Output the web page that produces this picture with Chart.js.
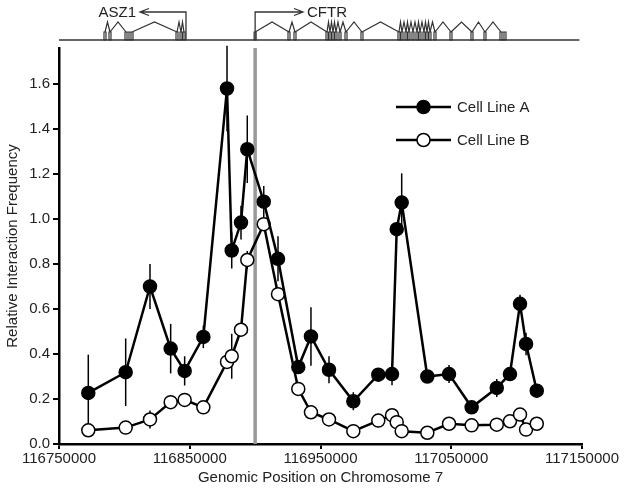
<!DOCTYPE html>
<html>
<head>
    <title>Relative Interaction Frequency</title>
    <script src="https://cdn.jsdelivr.net/npm/chart.js"></script>
    <style>
        body { margin: 0; background: #fff; }
    </style>
</head>
<body>
    <canvas id="chart" width="624" height="491"></canvas>
    <script>
    // fragment positions on chr7 and interaction frequencies
    const positions = [116772400, 116801000, 116819600, 116835400, 116846100, 116860400, 116878500,
        116882100, 116889200, 116894000, 116906600, 116917500, 116933000, 116942700, 116956500,
        116975100, 116994200, 117004700, 117008300, 117012100, 117031700, 117048300, 117065600,
        117084800, 117094900, 117102600, 117107200, 117115400];
    const cellLineA = [0.227, 0.319, 0.70, 0.424, 0.325, 0.476, 1.58, 0.86, 0.984, 1.31, 1.077, 0.823,
        0.342, 0.478, 0.33, 0.19, 0.308, 0.311, 0.955, 1.073, 0.30, 0.311, 0.163, 0.249, 0.311, 0.623,
        0.445, 0.237];
    const cellLineAErr = [0.17, 0.15, 0.10, 0.11, 0.065, 0.05, 0.19, 0.08, 0.075, 0.15, 0.07, 0.10,
        0.03, 0.13, 0.06, 0.04, 0.02, 0.05, 0.03, 0.13, 0.02, 0.04, 0.02, 0.04, 0.02, 0.04, 0.05, 0.03];
    const cellLineB = [0.061, 0.073, 0.109, 0.186, 0.196, 0.163, 0.365, 0.39, 0.508, 0.818, 0.977, 0.666,
        0.245, 0.141, 0.109, 0.057, 0.104, 0.128, 0.097, 0.057, 0.05, 0.09, 0.083, 0.086, 0.101, 0.131,
        0.064, 0.09];
    const cellLineBErr = [0.01, 0.02, 0.04, 0.01, 0.01, 0.03, 0.02, 0.10, 0.02, 0.04, 0.02, 0.03, 0.03,
        0.01, 0.01, 0.01, 0.03, 0.01, 0.01, 0.01, 0.01, 0.01, 0.01, 0.02, 0.01, 0.02, 0.02, 0.01];

    const xTicks = [116750000, 116850000, 116950000, 117050000, 117150000];
    const yTicks = [0, 0.2, 0.4, 0.6, 0.8, 1.0, 1.2, 1.4, 1.6];
    const viewpoint = 116900000;

    // gene annotation above the plot
    const asz1Exons = [116785180, 116789000, 116801240, 116802770, 116804300, 116805830, 116840250,
        116843310, 116845600];
    const asz1Tss = 116847130, asz1ArrowTip = 116811950;
    const cftrExons = [116900000, 116925900, 116930490, 116954970, 116957260, 116959560, 116961850,
        116964910, 116969500, 116981730, 117010030, 117012330, 117015390, 117017680, 117020740,
        117023800, 117026090, 117029150, 117031450, 117033740, 117037560, 117049800, 117065860,
        117075800, 117088040, 117089570, 117091100];
    const cftrTss = 116900000, cftrArrowTip = 116936610;

    const FONT = '"Liberation Sans", Arial, sans-serif';

    const errorBars = {
        id: 'errorBars',
        beforeDatasetsDraw(chart) {
            const ctx = chart.ctx, x = chart.scales.x, y = chart.scales.y;
            const errs = [cellLineAErr, cellLineBErr];
            ctx.save();
            // viewpoint line
            ctx.strokeStyle = '#999';
            ctx.lineWidth = 3.5;
            ctx.beginPath();
            ctx.moveTo(x.getPixelForValue(viewpoint), chart.chartArea.top);
            ctx.lineTo(x.getPixelForValue(viewpoint), chart.chartArea.bottom);
            ctx.stroke();
            ctx.strokeStyle = '#000';
            ctx.lineWidth = 1.5;
            chart.data.datasets.forEach((ds, d) => {
                ds.data.forEach((p, i) => {
                    const px = x.getPixelForValue(p.x);
                    ctx.beginPath();
                    ctx.moveTo(px, y.getPixelForValue(p.y + errs[d][i]));
                    ctx.lineTo(px, y.getPixelForValue(p.y - errs[d][i]));
                    ctx.stroke();
                });
            });
            ctx.restore();
        }
    };

    const geneTrack = {
        id: 'geneTrack',
        afterDraw(chart) {
            const ctx = chart.ctx, x = chart.scales.x;
            const base = 40, exonTop = 32, peak = 22, arrowY = 12;
            ctx.save();
            ctx.strokeStyle = '#333';
            ctx.lineWidth = 1.5;
            ctx.beginPath();
            ctx.moveTo(chart.chartArea.left, base);
            ctx.lineTo(x.getPixelForValue(117148000), base);
            ctx.stroke();

            function gene(exons) {
                const px = exons.map(e => x.getPixelForValue(e));
                ctx.lineWidth = 1.2;
                ctx.beginPath();
                px.forEach(p => ctx.rect(p - 1, exonTop, 2, base - exonTop));
                for (let i = 0; i < px.length - 1; i++) {
                    if (px[i + 1] - px[i] < 2.5) continue;
                    ctx.moveTo(px[i], exonTop);
                    ctx.lineTo((px[i] + px[i + 1]) / 2, peak);
                    ctx.lineTo(px[i + 1], exonTop);
                }
                ctx.stroke();
            }
            function arrow(tss, tip, label) {
                const a = x.getPixelForValue(tss), b = x.getPixelForValue(tip);
                const dir = b > a ? 1 : -1;
                ctx.lineWidth = 1.3;
                ctx.beginPath();
                ctx.moveTo(a, base);
                ctx.lineTo(a, arrowY);
                ctx.lineTo(b, arrowY);
                ctx.moveTo(b - dir * 9, arrowY - 3.5);
                ctx.lineTo(b, arrowY);
                ctx.lineTo(b - dir * 9, arrowY + 3.5);
                ctx.stroke();
                ctx.fillStyle = '#222';
                ctx.font = '15px ' + FONT;
                ctx.textBaseline = 'middle';
                ctx.textAlign = dir > 0 ? 'left' : 'right';
                ctx.fillText(label, b + dir * 4, arrowY + 1);
            }
            gene(asz1Exons);
            gene(cftrExons);
            arrow(asz1Tss, asz1ArrowTip, 'ASZ1');
            arrow(cftrTss, cftrArrowTip, 'CFTR');
            ctx.restore();
        }
    };

    const insideLegend = {
        id: 'insideLegend',
        afterDraw(chart) {
            const ctx = chart.ctx, area = chart.chartArea;
            ctx.save();
            chart.data.datasets.forEach((ds, i) => {
                const x0 = area.left + 337, y0 = area.top + 59 + i * 33;
                ctx.strokeStyle = '#000';
                ctx.lineWidth = 2.5;
                ctx.beginPath();
                ctx.moveTo(x0, y0);
                ctx.lineTo(x0 + 55, y0);
                ctx.stroke();
                ctx.beginPath();
                ctx.arc(x0 + 27.5, y0, 6.5, 0, Math.PI * 2);
                ctx.fillStyle = ds.pointBackgroundColor;
                ctx.fill();
                ctx.lineWidth = 1.5;
                ctx.stroke();
                ctx.fillStyle = '#222';
                ctx.font = '15px ' + FONT;
                ctx.textBaseline = 'middle';
                ctx.textAlign = 'left';
                ctx.fillText(ds.label, x0 + 61, y0 + 1);
            });
            ctx.restore();
        }
    };

    function series(values) {
        return positions.map((p, i) => ({ x: p, y: values[i] }));
    }

    new Chart(document.getElementById('chart'), {
        type: 'line',
        data: {
            datasets: [{
                label: 'Cell Line A',
                data: series(cellLineA),
                borderColor: '#000',
                borderWidth: 2.5,
                pointRadius: 6.5,
                pointBackgroundColor: '#000',
                pointBorderColor: '#000',
                pointBorderWidth: 1.5,
                tension: 0
            }, {
                label: 'Cell Line B',
                data: series(cellLineB),
                borderColor: '#000',
                borderWidth: 2.5,
                pointRadius: 6.5,
                pointBackgroundColor: '#fff',
                pointBorderColor: '#000',
                pointBorderWidth: 1.5,
                tension: 0
            }]
        },
        options: {
            responsive: false,
            animation: false,
            devicePixelRatio: 1,
            layout: { padding: { top: 48, right: 42, left: 0, bottom: 0 } },
            plugins: { legend: { display: false }, tooltip: { enabled: false } },
            scales: {
                x: {
                    type: 'linear',
                    min: 116750000,
                    max: 117150000,
                    afterBuildTicks: s => { s.ticks = xTicks.map(v => ({ value: v })); },
                    afterFit: s => { s.height = 47; },
                    ticks: {
                        color: '#222',
                        font: { family: FONT, size: 15 },
                        padding: 1,
                        maxRotation: 0,
                        callback: v => String(v)
                    },
                    grid: { drawOnChartArea: false, color: '#000', lineWidth: 2, tickLength: 5 },
                    border: { color: '#000', width: 2.5 },
                    title: {
                        display: true,
                        text: 'Genomic Position on Chromosome 7',
                        color: '#222',
                        font: { family: FONT, size: 15 },
                        padding: { top: 0, bottom: 4 }
                    }
                },
                y: {
                    min: 0,
                    max: 1.76,
                    afterBuildTicks: s => { s.ticks = yTicks.map(v => ({ value: v })); },
                    afterFit: s => { s.width = 59; },
                    ticks: {
                        color: '#222',
                        font: { family: FONT, size: 15 },
                        padding: 3,
                        callback: v => v.toFixed(1)
                    },
                    grid: { drawOnChartArea: false, color: '#000', lineWidth: 2, tickLength: 6 },
                    border: { color: '#000', width: 2.5 },
                    title: {
                        display: true,
                        text: 'Relative Interaction Frequency',
                        color: '#222',
                        font: { family: FONT, size: 15 },
                        padding: { top: 4, bottom: 0 }
                    }
                }
            }
        },
        plugins: [errorBars, geneTrack, insideLegend]
    });
    </script>
</body>
</html>
